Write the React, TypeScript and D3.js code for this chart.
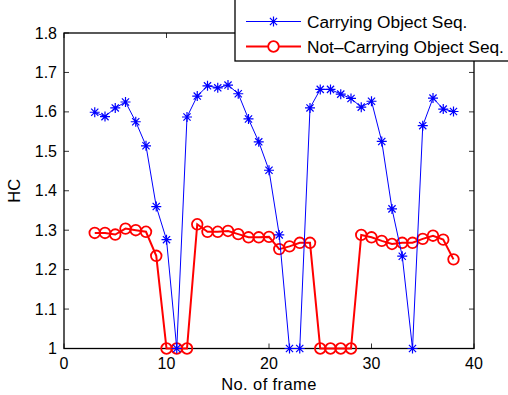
import React from "react";
import * as d3 from "d3";

const frames = d3.range(3, 39);
const carrying = [
  1.599, 1.588, 1.61, 1.625, 1.575, 1.514, 1.36, 1.276, 1.0, 1.587, 1.64, 1.666,
  1.661, 1.668, 1.646, 1.582, 1.524, 1.452, 1.288, 1.0, 1.0, 1.61, 1.657, 1.657,
  1.645, 1.634, 1.612, 1.627, 1.525, 1.354, 1.234, 1.0, 1.565, 1.635, 1.607, 1.601,
];
const notCarrying = [
  1.293, 1.293, 1.289, 1.304, 1.3, 1.296, 1.235, 1.0, 1.0, 1.0, 1.315, 1.296,
  1.296, 1.298, 1.29, 1.282, 1.282, 1.283, 1.252, 1.259, 1.268, 1.268, 1.0, 1.0,
  1.0, 1.0, 1.288, 1.282, 1.273, 1.265, 1.268, 1.268, 1.278, 1.286, 1.276, 1.226,
];
const xTicks = [0, 10, 20, 30, 40];
const yTicks = [1, 1.1, 1.2, 1.3, 1.4, 1.5, 1.6, 1.7, 1.8];
const seriesNames = ["Carrying Object Seq.", "Not\u2013Carrying Object Seq."];

const W = 508;
const H = 395;
const margin = { left: 64, right: 34, top: 33, bottom: 46.5 };
const font = "Helvetica, Arial, 'Liberation Sans', sans-serif";

const Star = ({ x, y, r, color }: { x: number; y: number; r: number; color: string }) => {
  const d = r * 0.72;
  return (
    <path
      d={`M${x - r},${y}H${x + r}M${x},${y - r}V${y + r}M${x - d},${y - d}L${x + d},${y + d}M${x - d},${y + d}L${x + d},${y - d}`}
      stroke={color}
      strokeWidth={1.2}
    />
  );
};

export default function App() {
  const x = d3.scaleLinear().domain([0, 40]).range([margin.left, W - margin.right]);
  const y = d3.scaleLinear().domain([1, 1.8]).range([H - margin.bottom, margin.top]);
  const line = d3
    .line<number>()
    .x((_, i) => x(frames[i]))
    .y((d) => y(d));

  const [x0, x1] = x.range();
  const [y0, y1] = y.range();
  const tick = 5;

  return (
    <svg
      width={W}
      height={H}
      style={{ position: "absolute", left: 0, top: 0, background: "#fff" }}
      fontFamily={font}
    >
      {/* ticks, inward on all four sides */}
      <g stroke="#000" strokeWidth={0.8}>
        {xTicks.map((t) => (
          <g key={"x" + t}>
            <line x1={x(t)} x2={x(t)} y1={y0} y2={y0 - tick} />
            <line x1={x(t)} x2={x(t)} y1={y1} y2={y1 + tick} />
          </g>
        ))}
        {yTicks.map((t) => (
          <g key={"y" + t}>
            <line x1={x0} x2={x0 + tick} y1={y(t)} y2={y(t)} />
            <line x1={x1} x2={x1 - tick} y1={y(t)} y2={y(t)} />
          </g>
        ))}
      </g>
      <rect x={x0} y={y1} width={x1 - x0} height={y0 - y1} fill="none" stroke="#000" strokeWidth={1.3} />

      {xTicks.map((t) => (
        <text key={"xl" + t} x={x(t)} y={y0 + 20} textAnchor="middle" fontSize={16}>
          {t}
        </text>
      ))}
      {yTicks.map((t) => (
        <text key={"yl" + t} x={x0 - 7} y={y(t) + 5.5} textAnchor="end" fontSize={16}>
          {d3.format("~g")(t)}
        </text>
      ))}
      <text x={(x0 + x1) / 2} y={y0 + 41.5} textAnchor="middle" fontSize={16.5} letterSpacing={0.4}>
        No. of frame
      </text>
      <text transform={`translate(19.5,${(y0 + y1) / 2}) rotate(-90)`} textAnchor="middle" fontSize={16.5}>
        HC
      </text>

      {/* not-carrying series */}
      <path d={line(notCarrying) ?? ""} fill="none" stroke="#ff0000" strokeWidth={2} />
      {notCarrying.map((v, i) => (
        <circle key={"c" + i} cx={x(frames[i])} cy={y(v)} r={5.3} fill="none" stroke="#ff0000" strokeWidth={1.8} />
      ))}

      {/* carrying series */}
      <path d={line(carrying) ?? ""} fill="none" stroke="#0000ff" strokeWidth={1} />
      {carrying.map((v, i) => (
        <Star key={"s" + i} x={x(frames[i])} y={y(v)} r={5} color="#0000ff" />
      ))}

      {/* legend */}
      <g>
        <rect x={235} y={-2} width={290} height={63} fill="#fff" stroke="#000" strokeWidth={1.3} />
        <line x1={246} x2={301} y1={21.5} y2={21.5} stroke="#0000ff" strokeWidth={1} />
        <Star x={273.5} y={21.5} r={5} color="#0000ff" />
        <text x={307} y={28.3} fontSize={17.3}>
          {seriesNames[0]}
        </text>
        <line x1={246} x2={301} y1={46.5} y2={46.5} stroke="#ff0000" strokeWidth={2} />
        <circle cx={273.5} cy={46.5} r={5.3} fill="#fff" stroke="#ff0000" strokeWidth={1.8} />
        <text x={307} y={53.3} fontSize={17.3}>
          {seriesNames[1]}
        </text>
      </g>
    </svg>
  );
}
